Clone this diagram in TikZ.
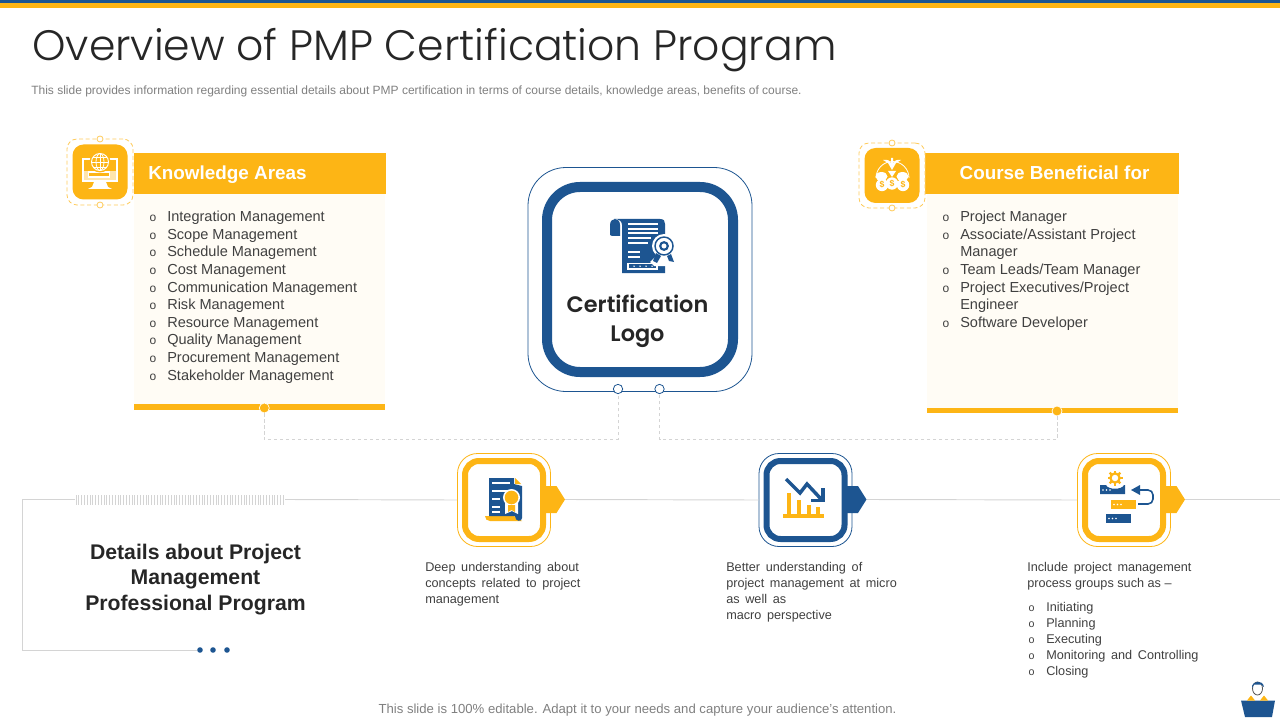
\documentclass[tikz,border=0pt]{standalone}
\usepackage{fontspec}
\setmainfont{Liberation Sans}
\newfontfamily\geo{Poppins Light}
\newfontfamily\geob{Poppins SemiBold}
\usetikzlibrary{calc}
\newcommand\wsp{\spaceskip=.45em\relax}
\definecolor{ylw}{HTML}{FDB515}
\definecolor{blu}{HTML}{1D5591}
\definecolor{cream}{HTML}{FFFCF5}
\definecolor{ink}{HTML}{404040}
\definecolor{dark}{HTML}{262626}
\definecolor{grey}{HTML}{7F7F7F}
\definecolor{rule}{HTML}{D4D4D4}
\tikzset{
 txt/.style={anchor=base west,inner sep=0pt,text=ink,font=\fontsize{10.9pt}{13pt}\selectfont},
 bul/.style={anchor=center,inner sep=0pt,text=ink,font=\fontsize{9pt}{10pt}\selectfont},
 sm/.style={anchor=base west,inner sep=0pt,text=ink,font=\fontsize{9.5pt}{11pt}\selectfont},
 head/.style={anchor=base,inner sep=0pt,text=white,font=\fontsize{14.15pt}{17pt}\selectfont\bfseries},
 guide/.style={draw=rule,line width=.6pt,dash pattern=on 2.5pt off 2pt},
 hline/.style={draw=rule,line width=.7pt},
 dot/.style={circle,draw=ylw,fill=white,line width=.6pt,inner sep=0pt,minimum size=6pt},
 ydot/.style={circle,fill=ylw,draw=white,line width=.5pt,inner sep=0pt,minimum size=7.5pt},
}
\begin{document}
\begin{tikzpicture}[x=0.75pt,y=-0.75pt]
\useasboundingbox (0,0) rectangle (1280,720);
\fill[blu] (0,0) rectangle (1280,3.3);
\fill[ylw] (0,3.3) rectangle (1280,8);
\node[anchor=west,inner sep=0pt,text=dark,font=\geo\fontsize{31.9pt}{38pt}\selectfont] (title) at (32,50) {Overview of PMP Certification Program};
\node[anchor=west,inner sep=0pt,text=grey,font=\fontsize{9pt}{11pt}\selectfont] (sub) at (31,91) {This slide provides information regarding essential details about PMP certification in terms of course details, knowledge areas, benefits of course.};
% left panel
\fill[cream] (134,194) rectangle (385,404);
\fill[ylw] (134,153) rectangle (386,194);
\fill[ylw] (134,404) rectangle (385,410);
\node[head,anchor=base west] (kh) at (148,179.5) {Knowledge Areas};
\foreach \y/\t [count=\i] in {216/{Integration Management},234/{Scope Management},251/{Schedule Management},269/{Cost Management},287/{Communication Management},304/{Risk Management},322/{Resource Management},339/{Quality Management},357/{Procurement Management},375/{Stakeholder Management}}{
 \node[bul] (kb\i) at (153,\y+2.5) {o};
 \node[txt] (kt\i) at (167,\y+5.5) {\t};
}
% right panel
\fill[cream] (927,194) rectangle (1178,408);
\fill[ylw] (925,153) rectangle (1179,194);
\fill[ylw] (927,408) rectangle (1178,413);
\node[head] (ch) at (1054.5,179.5) {Course Beneficial for};
\foreach \y/\t [count=\i] in {216/{Project Manager},234/{Associate/Assistant Project},269/{Team Leads/Team Manager},287/{Project Executives/Project},322/{Software Developer}}{
 \node[bul] (cb\i) at (946,\y+2.5) {o};
 \node[txt] (ct\i) at (960,\y+5.5) {\t};
}
\node[txt] (ct6) at (960,256.5) {Manager};
\node[txt] (ct7) at (960,309.5) {Engineer};
% center
\node[draw=blu,fill=white,line width=.6pt,rounded corners=38pt*.75,minimum width=224pt*.75,minimum height=224pt*.75,inner sep=0pt] (outer) at (640,279.5) {};
\node[draw=blu,fill=white,line width=7.5pt,rounded corners=33pt*.75,minimum width=186pt*.75,minimum height=185pt*.75,inner sep=0pt] (inner) at (640,279.5) {};
\node[inner sep=0pt,text=dark,align=center,font=\geob\fontsize{16.8pt}{21.75pt}\selectfont] (logo) at (637.5,321.5) {Certification\\Logo};
% scroll icon
\fill[blu] (610,235) -- (610,225) .. controls (610,217) and (620,217) .. (620,225) -- (620,236) -- (612,236) -- cycle;
\fill[blu] (614,219) -- (660,219) .. controls (664,219) and (665,221) .. (665,224) -- (665,273) -- (622,273) -- (622,225) .. controls (622,222) and (620,219) .. (614,219) -- cycle;
\foreach \b/\c in {658/224,658/229,658/233,651/238,648/243,640/252,640/257}{\draw[white,line width=.8pt] (628,\c) -- (\b,\c);}
\draw[white,line width=.8pt] (628,263.5) rectangle (657,269);
\foreach \x in {634,640,646,652}{\fill[white] (\x,266.2) circle (.8);}
\fill[white] (664,246) circle (12);
\fill[white] (656,256) -- (670,256) -- (676,264) -- (666,266) -- (654,266) -- (650,262) -- cycle;
\fill[blu] (656,253) -- (661,256) -- (657,263) -- (653,261) -- cycle;
\fill[blu] (667,256) -- (671,254) -- (674,262) -- (669,261) -- cycle;
\draw[blu,line width=1.1pt,fill=white] (664,246) circle (9);
\draw[blu,line width=1.6pt,fill=white] (664,246) circle (3.8);
% connectors
\node[dot,draw=blu,minimum size=7pt] (p1) at (618,389) {};
\node[dot,draw=blu,minimum size=7pt] (p2) at (659.5,389) {};
\node[ydot] (q1) at (264.3,408) {};
\node[ydot] (q2) at (1057,411) {};
\draw[guide] (q1) -- (264.3,439.5) -| (p1);
\draw[guide] (q2) -- (1057,439.5) -| (p2);
% timeline
\coordinate (tlA) at (75,499.5);
\coordinate (tlB) at (285,499.5);
\coordinate (corner1) at (22,499.5);
\coordinate (corner2) at (22,650.5);
\coordinate (tlE) at (197,650.5);
\coordinate (tlEnd) at (1280,499.5);
\draw[hline] (tlA) -- (corner1) -- (corner2) -- (tlE);
\foreach \x in {76,78.8,...,285}{\draw[rule,line width=.55pt] (\x,495) -- (\x,505);}
\foreach \x in {200,213,227}{\fill[blu] (\x,650) circle (2.8);}
\node[inner sep=0pt,text=dark,align=center,font=\fontsize{15.9pt}{19.2pt}\selectfont\bfseries] (det) at (195.5,579.5) {Details about Project\\Management\\Professional Program};
% step boxes
\foreach \n/\cx/\col in {s1/504/ylw,s2/805.5/blu,s3/1124/ylw}{
 \node[draw=\col,fill=white,line width=.6pt,rounded corners=20pt*.75,minimum size=93pt*.75,inner sep=0pt] (\n o) at (\cx,500) {};
 \fill[\col] (\cx+41,486) -- (\cx+52.5,486) -- (\cx+61,499.5) -- (\cx+52.5,513) -- (\cx+41,513) -- cycle;
 \node[draw=\col,fill=white,line width=4.5pt,rounded corners=14pt*.75,minimum size=78pt*.75,inner sep=0pt] (\n) at (\cx,500) {};
}
\coordinate (e1) at (565,499.5);\coordinate (e2) at (867,499.5);\coordinate (e3) at (1185,499.5);
\draw[hline] (tlB) -- (s1o.west);
\draw[hline] (e1) -- (s2o.west);
\draw[hline] (e2) -- (s3o.west);
\draw[hline] (e3) -- (tlEnd);
% doc icon
\fill[ylw] (485,516) -- (514,516) -- (522,521) -- (490,521) .. controls (487,521) and (485,519) .. (485,516) -- cycle;
\fill[blu] (489,478) -- (514,478) -- (514,484) -- (522,486) -- (522,518) .. controls (522,522) and (515,522) .. (515,516) -- (489,516) -- cycle;
\fill[ylw] (515,478) -- (521,484) -- (515,484) -- cycle;
\foreach \a/\b in {483/510,491/508,499/500,507/500,512/500}{\draw[white,line width=.8pt] (492,\a) -- (\b,\a);}
\fill[white] (505,502) -- (518,502) -- (518,514) -- (512,511) -- (505,514) -- cycle;
\fill[white] (511.5,497.5) circle (8.5);
\fill[ylw] (511.5,497.5) circle (6.8);
\fill[ylw] (508,505) -- (515,505) -- (515,512) -- (511.5,510) -- (508,512) -- cycle;
% chart icon
\draw[blu,line width=2.6pt] (786,479) -- (800,493) -- (807,484) -- (821,499);
\draw[blu,line width=2.4pt] (811,500.5) -- (823,500.5) -- (823,488);
\fill[ylw] (783,514) rectangle (824,518);
\foreach \a/\b in {787/493,797/500,807/505,816/507}{\fill[ylw] (\a,\b) rectangle (\a+4,514);}
% process icon
\draw[ylw,line width=1.7pt] (1115,478) circle (4.6);
\foreach \r in {0,45,...,315}{\draw[ylw,line width=1.7pt] (1115,478) ++(\r:5) -- ++(\r:2.5);}
\fill[blu] (1100,485) -- (1106,485) .. controls (1108,490) and (1122,490) .. (1124,485) -- (1125,485) -- (1125,494) -- (1100,494) -- cycle;
\fill[ylw] (1111,500) rectangle (1136,508.5);
\fill[blu] (1106,514) rectangle (1131,523);
\foreach \x in {1103,1106.5,1110}{\fill[white] (\x,490) circle (.9);}
\foreach \x in {1114,1117.5,1121}{\fill[white] (\x,504.5) circle (.9);}
\foreach \x in {1109,1112.5,1116}{\fill[white] (\x,518.5) circle (.9);}
\fill[blu] (1131,490) -- (1140,485) -- (1140,495) -- cycle;
\draw[blu,line width=1.2pt] (1138,490) -- (1148,490) arc[start angle=-90,end angle=0,radius=5] -- (1153,499) arc[start angle=0,end angle=90,radius=5] -- (1138,504);
% step text
\foreach \y/\t [count=\i] in {566/{Deep understanding about},582.5/{concepts related to project},598.5/{management}}{\node[sm] (a\i) at (425,\y+5) {\wsp\t};}
\foreach \y/\t [count=\i] in {566/{Better understanding of},582.5/{project management at micro},598.5/{as well as},614.5/{macro perspective}}{\node[sm] (b\i) at (726,\y+5) {\wsp\t};}
\node[sm] (c1) at (1027,571.5) {\wsp Include project management};
\node[sm] (c2) at (1027,587.5) {process groups such as –};
\foreach \y/\t [count=\i] in {606.5/{Initiating},622.5/{Planning},638.5/{Executing},654.5/{Monitoring and Controlling},670.5/{Closing}}{
 \node[bul,font=\fontsize{8pt}{9pt}\selectfont] (cb2\i) at (1031.5,\y+2) {o};
 \node[sm] (d\i) at (1046,\y+5) {\wsp\t};
}
\node[anchor=center,inner sep=0pt,text=grey,font=\fontsize{9.85pt}{11pt}\selectfont] (foot) at (637.5,710) {This slide is 100\% editable. Adapt it to your needs and capture your audience's attention.};
% presenter
\fill[blu] (1241,700.5) -- (1275,700.5) -- (1272,717) -- (1245,717) -- cycle;
\fill[ylw] (1247,700.5) -- (1251,695.5) -- (1255,700.5) -- cycle;
\fill[ylw] (1260,700.5) -- (1264,695.5) -- (1268,700.5) -- cycle;
\draw[dark!80,line width=.6pt] (1257.5,688.5) ellipse (5 and 6.5);
\fill[blu] (1252,688) .. controls (1251,681) and (1263,679) .. (1264,687) -- (1261,684.5) -- (1254,684.5) -- cycle;
% icon badges
\foreach \n/\cx/\cy/\w/\h in {ib1/100/172/66/66,ib2/892/175.5/66/65}{
 \node[draw=ylw!70,fill=white,line width=.6pt,dash pattern=on 3pt off 2pt,rounded corners=10pt*.75,minimum width=\w*.75pt,minimum height=\h*.75pt,inner sep=0pt] (\n) at (\cx,\cy) {};
 \node[dot,draw=ylw!70,minimum size=4.5pt] (\n t) at (\cx,\cy-\h/2) {};
 \node[dot,draw=ylw!70,minimum size=4.5pt] (\n b) at (\cx,\cy+\h/2) {};
 \node[fill=ylw,rounded corners=11pt*.75,minimum size=55pt*.75,inner sep=0pt] (\n c) at (\cx,\cy) {};
}
% monitor icon
\fill[white] (82,158) rectangle (118,182);
\fill[ylw] (84,160) rectangle (116,171);
\fill[ylw!35] (84,171) rectangle (116,180);
\fill[white] (94,182) -- (106,182) -- (108,187) -- (112,189) -- (88,189) -- (92,187) -- cycle;
\fill[white] (88,171) rectangle (110,178);
\fill[ylw] (89,173) rectangle (109,176);
\fill[ylw] (100,162) circle (10.5);
\draw[white,line width=.7pt] (100,162) circle (8.5);
\draw[white,line width=.6pt] (100,162) ellipse (4 and 8.5);
\draw[white,line width=.6pt] (91.5,162) -- (108.5,162) (93,157) -- (107,157) (93,167) -- (107,167) (100,153.5) -- (100,170.5);
% money icon
\draw[white,line width=.6pt] (876,178) arc[start angle=180,end angle=360,radius=16.5];
\fill[white] (892,170) -- (888,163) -- (883,160) .. controls (888,159) and (890,161) .. (891,163) -- (891,158) -- (893,158) -- (893,163) .. controls (894,161) and (897,159) .. (901,160) -- (896,163) -- cycle;
\fill[white] (892,177) -- (888,171) -- (896,171) -- cycle;
\foreach \x in {881.5,902.5}{\fill[white] (\x,176.5) ellipse (6 and 4.5);}
\foreach \x/\y/\m in {882/185/ma,892/183.5/mb,903/185/mc}{
 \fill[white] (\x,\y) circle (6.2);
 \node[inner sep=0pt,text=ylw,font=\fontsize{6.5pt}{6.5pt}\selectfont\bfseries] (\m) at (\x,\y) {\$};
}
\end{tikzpicture}
\end{document}
